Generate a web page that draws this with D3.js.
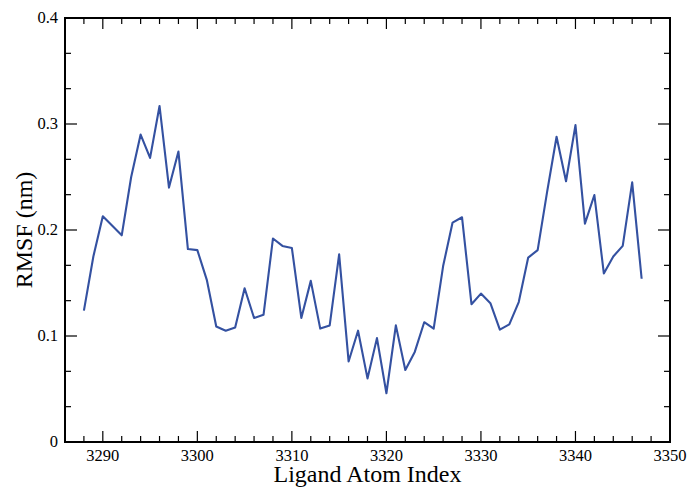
<!DOCTYPE html>
<html><head><meta charset="utf-8">
<script src="https://cdn.jsdelivr.net/npm/d3@7"></script>
<style>body{margin:0;background:#fff}svg{display:block}</style>
</head><body>
<svg id="c" width="690" height="487"></svg>
<script>
const atomIndex = d3.range(3288, 3348);
const rmsf = [0.124,0.175,0.213,0.204,0.195,0.250,0.290,0.268,0.317,0.240,0.274,0.182,0.181,0.153,0.109,0.105,0.108,0.145,0.117,0.120,
0.192,0.185,0.183,0.117,0.152,0.107,0.110,0.177,0.076,0.105,0.060,0.098,0.046,0.110,0.068,0.085,0.113,0.107,0.166,0.207,
0.212,0.130,0.140,0.131,0.106,0.111,0.132,0.174,0.181,0.236,0.288,0.246,0.299,0.206,0.233,0.159,0.175,0.185,0.245,0.154];
const xMajorTicks = [3290,3300,3310,3320,3330,3340,3350];
const yMajorTicks = [0,0.1,0.2,0.3,0.4];
const yTickLabels = ["0","0.1","0.2","0.3","0.4"];

const L=65,R=670,T=18,B=442;
const svg=d3.select("#c");
const x=d3.scaleLinear().domain([3286,3350]).range([L,R]);
const y=d3.scaleLinear().domain([0,0.4]).range([B,T]);
const font="'Liberation Serif','Times New Roman',serif";

const xMinor=d3.range(3286,3351,2).filter(v=>v%10!==0);
const yMinor=d3.range(0,13).map(i=>i/30).filter((v,i)=>i%3!==0);

const g=svg.append("g");
const tk=(x1,y1,x2,y2)=>g.append("line").attr("x1",x1).attr("y1",y1).attr("x2",x2).attr("y2",y2).attr("stroke","#000").attr("stroke-width",1.2);
xMajorTicks.forEach(v=>{tk(x(v),B,x(v),B-11);tk(x(v),T,x(v),T+11);});
xMinor.forEach(v=>{tk(x(v),B,x(v),B-6);tk(x(v),T,x(v),T+6);});
yMajorTicks.forEach(v=>{tk(L,y(v),L+12,y(v));tk(R,y(v),R-12,y(v));});
yMinor.forEach(v=>{tk(L,y(v),L+6,y(v));tk(R,y(v),R-6,y(v));});

svg.append("path").datum(atomIndex.map((a,i)=>[a,rmsf[i]]))
  .attr("d",d3.line().x(d=>x(d[0])).y(d=>y(d[1])))
  .attr("fill","none").attr("stroke","#3451a1").attr("stroke-width",2.1).attr("stroke-linejoin","round");

svg.append("rect").attr("x",L).attr("y",T).attr("width",R-L).attr("height",B-T)
  .attr("fill","none").attr("stroke","#000").attr("stroke-width",2);

svg.selectAll(".xl").data(xMajorTicks).enter().append("text")
  .attr("x",d=>x(d)).attr("y",461).attr("text-anchor","middle")
  .attr("font-family",font).attr("font-size",16.5).text(d=>d);
svg.selectAll(".yl").data(yMajorTicks).enter().append("text")
  .attr("x",58).attr("y",d=>y(d)+5).attr("text-anchor","end")
  .attr("font-family",font).attr("font-size",16.5).text((d,i)=>yTickLabels[i]);

svg.append("text").attr("x",(L+R)/2).attr("y",482).attr("text-anchor","middle")
  .attr("font-family",font).attr("font-size",24).text("Ligand Atom Index");
svg.append("text").attr("transform",`translate(32,${(T+B)/2}) rotate(-90)`).attr("text-anchor","middle")
  .attr("font-family",font).attr("font-size",24).text("RMSF (nm)");
</script>
</body></html>
